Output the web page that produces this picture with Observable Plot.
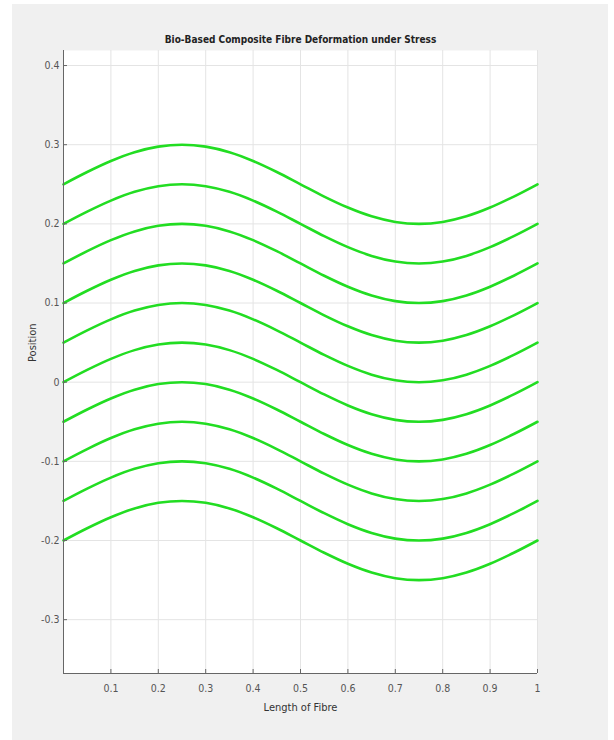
<!DOCTYPE html>
<html>
<head>
<meta charset="utf-8">
<script src="https://cdn.jsdelivr.net/npm/d3@7"></script>
<script src="https://cdn.jsdelivr.net/npm/@observablehq/plot@0.6"></script>
<style>
  html, body { margin: 0; padding: 0; background: #ffffff; }
  #wrap { position: relative; width: 614px; height: 740px; overflow: hidden; }
  #bg { position: absolute; left: 12px; top: 4px; width: 596px; height: 736px; background: #f0f0f0; }
  #chart { position: absolute; left: 0; top: 0; }
</style>
</head>
<body>
<div id="wrap"><div id="bg"></div><div id="chart"></div></div>
<script>
const titleText = "Bio-Based Composite Fibre Deformation under Stress";
const xLabel = "Length of Fibre";
const yLabel = "Position";

// fibre baseline offsets (value at x = 0), top to bottom
const offsets = [0.25, 0.2, 0.15, 0.1, 0.05, 0, -0.05, -0.1, -0.15, -0.2];

// sample positions along the fibre and the deflection
const xs = [0, 0.05, 0.1, 0.15, 0.2, 0.25, 0.3, 0.35, 0.4, 0.45, 0.5,
            0.55, 0.6, 0.65, 0.7, 0.75, 0.8, 0.85, 0.9, 0.95, 1];
const deflection = [0, 0.0155, 0.0294, 0.0405, 0.0476, 0.05, 0.0476, 0.0405, 0.0294, 0.0155, 0,
                    -0.0155, -0.0294, -0.0405, -0.0476, -0.05, -0.0476, -0.0405, -0.0294, -0.0155, 0];

const xTicks = [0.1, 0.2, 0.3, 0.4, 0.5, 0.6, 0.7, 0.8, 0.9, 1];
const yTicks = [-0.3, -0.2, -0.1, 0, 0.1, 0.2, 0.3, 0.4];

const rows = [];
offsets.forEach((o, i) => {
  xs.forEach((x, j) => rows.push({fibre: i, x, y: o + deflection[j]}));
});

const font = "'Liberation Sans Narrow', 'DejaVu Sans Condensed', 'Liberation Sans', sans-serif";
const fmt = d => d === 0 ? "0" : (d < 0 ? "-" : "") + String(Math.abs(d));

const plot = Plot.plot({
  width: 614,
  height: 740,
  marginLeft: 63,
  marginRight: 77,
  marginTop: 50,
  marginBottom: 67,
  style: {background: "transparent", fontFamily: font, fontSize: "10px", color: "#555"},
  x: {domain: [0, 1], ticks: xTicks},
  y: {domain: [-0.368, 0.419], ticks: yTicks},
  marks: [
    Plot.frame({fill: "white", stroke: null}),
    Plot.gridX(xTicks, {stroke: "#e4e4e4", strokeOpacity: 1}),
    Plot.gridY(yTicks, {stroke: "#e4e4e4", strokeOpacity: 1}),
    Plot.line(rows, {x: "x", y: "y", z: "fibre", stroke: "#22dd22", strokeWidth: 2.6, curve: "catmull-rom"}),
    Plot.axisX(xTicks, {tickSize: -4, tickPadding: 15, tickFormat: fmt, label: null, stroke: "#666", fill: "#555", fontSize: 10.5}),
    Plot.axisY(yTicks, {tickSize: -4, tickPadding: 8, tickFormat: fmt, label: null, stroke: "#666", fill: "#555", fontSize: 10.5}),
    Plot.ruleX([0], {stroke: "#666"}),
    Plot.ruleY([-0.368], {stroke: "#666"}),
    Plot.text([titleText], {frameAnchor: "top", dy: -15, fontWeight: "bold", fontSize: 10, fill: "#222"}),
    Plot.text([xLabel], {frameAnchor: "bottom", dy: 37, fontSize: 11, fill: "#333"}),
    Plot.text([yLabel], {frameAnchor: "left", dx: -31, rotate: -90, fontSize: 11, fill: "#333"})
  ]
});
document.getElementById("chart").appendChild(plot);
</script>
</body>
</html>
